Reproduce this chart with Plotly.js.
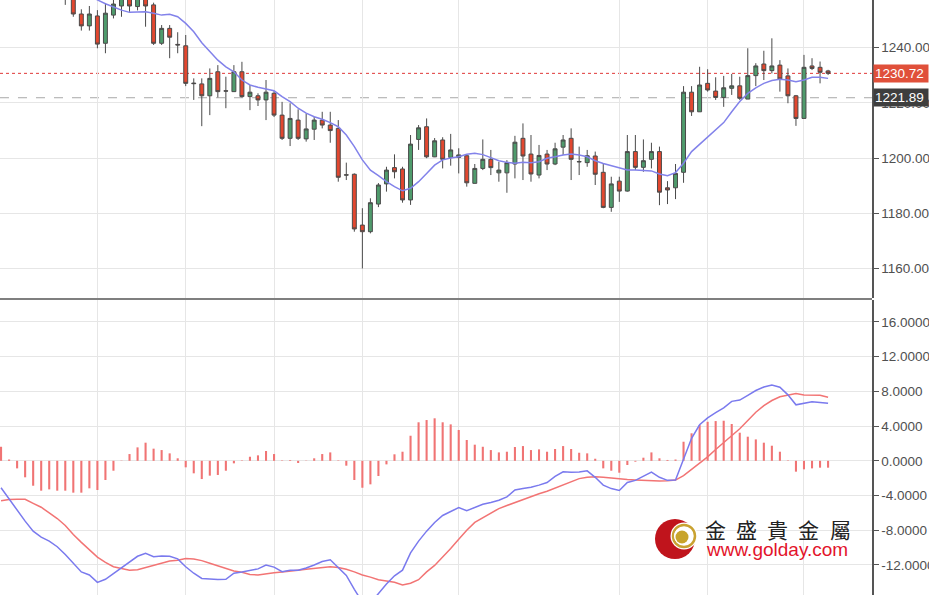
<!DOCTYPE html>
<html><head><meta charset="utf-8">
<script src="https://cdn.plot.ly/plotly-3.0.1.min.js"></script>
<style>html,body{margin:0;padding:0;background:#fff}#chart{width:929px;height:595px}</style>
</head><body><div id="chart"></div>
<script>
// ---- candle data (index -1 .. 94) ----
const candleStart = -1;
const open  = [1262,1262,1252.2,1247.9,1251.5,1241.6,1251.8,1255.1,1259,1254.9,1259,1255.5,1241.6,1247.0,1241.2,1240.7,1227.2,1226.9,1222.6,1231.3,1224.4,1224.1,1231.3,1222.3,1222.6,1221.1,1223.5,1215.6,1207.2,1213.8,1207.0,1210.5,1213.8,1212.0,1210.8,1194.0,1194.2,1175.8,1173.4,1183.4,1190.7,1196.6,1196.1,1184.9,1206.8,1211.4,1200.5,1206.6,1200.3,1200.3,1200.9,1190.9,1196.3,1199.6,1194.7,1194.7,1197.9,1207.2,1201.5,1193.9,1201.5,1197.9,1204.0,1207.2,1198.8,1198.4,1200.8,1194.9,1182.2,1191.7,1188.1,1202.4,1196.7,1199.6,1202.4,1189.3,1189.3,1194.9,1223.9,1216.8,1227.1,1224.3,1222.0,1225.3,1226.2,1221.4,1229.9,1234.1,1231.7,1233.7,1229.8,1222.6,1214.4,1233.4,1232.9,1231.6];
const close = [1260,1252.2,1247.9,1252.2,1241.3,1252.5,1255.8,1258.5,1255.1,1258.5,1255.1,1241.6,1247.0,1243.8,1241.0,1227.1,1227.0,1222.6,1228.9,1224.1,1224.3,1231.3,1222.3,1223.9,1221.1,1223.9,1215.6,1207.2,1214.4,1207.2,1210.6,1213.8,1212.0,1210.0,1193.1,1193.9,1174.4,1173.4,1183.9,1190.3,1195.7,1195.1,1184.9,1205.1,1211.0,1200.5,1206.3,1199.6,1203.0,1201.2,1191.1,1196.3,1199.6,1196.6,1195.7,1198.4,1205.8,1200.8,1194.3,1201.0,1197.9,1203.4,1206.6,1199.6,1198.7,1200.9,1194.2,1182.2,1190.7,1188.1,1202.4,1196.7,1199.1,1202.4,1187.7,1188.5,1194.5,1223.9,1216.8,1226.5,1224.7,1222.0,1225.5,1226.2,1221.7,1229.9,1233.4,1231.7,1233.4,1228.7,1222.6,1214.4,1232.9,1232.5,1231.1,1230.72];
const high  = [1263,1263,1253.9,1255.1,1253.6,1256.1,1258,1260,1260,1260,1260,1256.3,1248.2,1248.2,1245.6,1244.6,1228.9,1228.9,1232.5,1233.7,1229.5,1233.7,1234.9,1226.5,1223.5,1228.3,1224.3,1220.4,1219.9,1217.7,1216.2,1215.0,1216.8,1216.8,1213.8,1198.4,1194.5,1181.9,1185.5,1191.0,1196.9,1201.4,1196.9,1208.4,1212.0,1214.4,1207.3,1207.6,1208.8,1203.6,1201.0,1197.9,1206.8,1203.0,1198.7,1199.3,1208.1,1212.6,1208.4,1204.8,1203.0,1205.6,1208.4,1210.8,1204.2,1203.0,1202.4,1198.1,1193.3,1193.3,1208.4,1208.4,1206.8,1205.6,1204.2,1191.7,1197.9,1226.1,1226.1,1233.1,1232.2,1229.3,1229.8,1230.5,1229.5,1239.8,1234.4,1238.9,1243.4,1235.5,1232.5,1222.9,1237.4,1236.2,1235.0,1232.0];
const low   = [1255.5,1251.2,1246.2,1246.2,1239.8,1238.0,1250.6,1251.2,1253.0,1253.5,1247.6,1241.0,1241.0,1236.2,1238.0,1226.1,1221.1,1211.6,1215.6,1222.0,1218.1,1224.1,1222.0,1217.4,1218.9,1213.8,1214.9,1206.6,1204.4,1206.6,1206.0,1206.6,1210.8,1205.6,1191.5,1192.1,1173.4,1160.1,1172.8,1182.3,1187.9,1192.7,1183.9,1183.1,1203.0,1200.0,1200.4,1196.3,1197.3,1194.5,1189.7,1190.9,1195.7,1193.9,1191.5,1187.5,1192.7,1192.1,1191.5,1192.7,1195.7,1197.5,1201.2,1192.1,1193.9,1196.9,1190.3,1181.9,1180.6,1184.2,1187.9,1195.7,1195.1,1196.3,1183.0,1183.4,1185.2,1191.1,1215.3,1216.8,1224.1,1221.1,1218.6,1222.9,1221.1,1221.4,1226.1,1228.3,1230.7,1224.1,1219.9,1211.7,1214.4,1231.9,1227.1,1230.1];

// ---- moving average (index 2 .. 94) ----
const maStart = 2;
const ma = [1259.5,1257.3,1255.9,1254.7,1253.6,1252.8,1252.8,1253.0,1252.5,1251.8,1252.1,1251.2,1248.8,1245.8,1241.8,1238.6,1235.5,1233.1,1231.3,1228.3,1226.5,1225.7,1225.0,1224.4,1222.3,1220.5,1218.1,1216.3,1215.0,1214.1,1212.9,1211.4,1208.4,1204.2,1199.4,1195.7,1193.7,1191.5,1189.7,1188.2,1189.1,1191.5,1194.5,1197.5,1199.4,1200.1,1200.5,1201.4,1201.8,1201.3,1200.2,1199.1,1198.5,1198.2,1198.5,1198.4,1198.7,1200.0,1200.5,1201.2,1201.5,1201.2,1200.5,1199.1,1198.1,1197.3,1196.3,1195.7,1195.7,1195.5,1195.4,1194.3,1193.7,1194.8,1198.2,1202.4,1205.1,1207.6,1210.2,1212.9,1216.8,1220.5,1223.5,1225.5,1227.1,1228.1,1228.6,1228.3,1227.7,1228.3,1229.3,1229.3,1228.9];

// ---- MACD (index -9 .. 94) ----
const macdStart = -9;
const macdLine = [-3.1,-4.4,-5.6,-6.95,-8.1,-8.8,-9.25,-9.9,-10.8,-11.85,-12.8,-13.15,-14.0,-13.65,-13.0,-12.35,-11.65,-11.0,-10.65,-11.05,-10.97,-11.0,-11.3,-12.2,-12.95,-13.55,-13.62,-13.68,-13.65,-12.95,-12.8,-12.65,-12.45,-12.0,-12.25,-12.78,-12.6,-12.6,-12.35,-12.0,-11.6,-11.4,-12.35,-13.2,-14.8,-16.3,-16.4,-15.3,-14.2,-13.25,-12.6,-10.6,-9.25,-8.1,-7.1,-6.3,-5.8,-5.38,-5.75,-5.35,-5.0,-4.8,-4.55,-4.15,-3.35,-3.2,-3.05,-2.8,-2.5,-1.8,-1.26,-1.32,-1.28,-1.15,-1.9,-2.8,-3.2,-3.42,-2.5,-2.25,-1.75,-1.3,-1.9,-2.25,-2.2,0.3,2.6,4.15,4.95,5.55,6.1,6.85,7.0,7.55,8.1,8.5,8.73,8.48,7.6,6.45,6.6,6.8,6.72,6.62];
const signalLine = [-4.6,-4.45,-4.44,-4.44,-4.9,-5.35,-6.0,-6.65,-7.45,-8.5,-9.4,-10.3,-11.1,-11.7,-12.2,-12.4,-12.6,-12.55,-12.3,-12.1,-11.8,-11.55,-11.45,-11.25,-11.3,-11.5,-11.8,-12.1,-12.4,-12.7,-12.85,-13.1,-13.15,-13.0,-12.9,-12.8,-12.66,-12.6,-12.5,-12.4,-12.3,-12.2,-12.3,-12.5,-12.8,-13.15,-13.4,-13.7,-13.85,-14.0,-14.3,-14.1,-13.7,-12.8,-12.05,-11.1,-10.1,-9.05,-8.0,-7.1,-6.55,-6.0,-5.5,-5.15,-4.8,-4.47,-4.15,-3.8,-3.5,-3.15,-2.75,-2.4,-2.05,-1.9,-1.83,-1.9,-2.0,-2.1,-2.15,-2.2,-2.25,-2.28,-2.33,-2.3,-2.22,-1.7,-1.0,-0.3,0.45,1.3,2.1,2.9,3.7,4.65,5.6,6.35,6.95,7.38,7.6,7.75,7.58,7.58,7.55,7.32];
const histogram = [1.62,0.15,-0.87,-1.9,-2.87,-3.44,-3.29,-3.44,-3.44,-3.67,-3.67,-3.17,-3.36,-2.21,-1.14,0.03,0.78,1.55,2.09,1.4,1.24,0.86,0.29,-0.75,-1.44,-2.1,-1.71,-1.63,-1.14,-0.29,0.05,0.47,0.63,1.13,0.78,0.05,0.08,-0.25,0.03,0.29,0.78,0.97,0.05,-0.56,-2.21,-3.1,-2.71,-1.75,-0.41,0.75,1.05,2.89,4.44,4.7,4.9,4.44,4.2,3.55,2.4,1.86,1.62,1.24,0.97,1.05,1.59,1.7,1.24,1.32,1.05,1.36,1.7,1.36,0.93,0.86,0.24,-0.87,-1.14,-1.37,-0.48,-0.1,0.36,0.97,0.29,0.1,0.15,2.2,3.17,4.12,4.5,4.58,4.62,4.24,3.24,2.78,2.47,2.09,1.74,1.05,0.05,-1.25,-0.98,-0.87,-0.79,-0.79];

// ---- axis ticks / labels ----
const priceTicks = [1160,1180,1200,1220,1240];
const macdTicks = [-12,-8,-4,0,4,8,12,16];
const gridIdx = [3,14,25,36,48,68,79,91];
const lastPrice = 1230.72;
const refPrice = 1221.89;
const brandName = "金盛貴金屬";
const brandUrl = "www.golday.com";

const idx = (start, n) => Array.from({length:n}, (_, k) => start + k);
const cx = idx(candleStart, open.length);
const mx = idx(maStart, ma.length);
const dx = idx(macdStart, macdLine.length);

const traces = [
  {type:'candlestick', x:cx, open:open, high:high, low:low, close:close, xaxis:'x', yaxis:'y',
   increasing:{fillcolor:'#4f9b6c', line:{color:'#4a4a4a', width:1}},
   decreasing:{fillcolor:'#e2472f', line:{color:'#4a4a4a', width:1}},
   whiskerwidth:0, hoverinfo:'skip'},
  {type:'scatter', mode:'lines', x:mx, y:ma, xaxis:'x', yaxis:'y',
   line:{color:'#8282ea', width:1.5}, hoverinfo:'skip'},
  {type:'bar', x:dx, y:histogram, xaxis:'x2', yaxis:'y2', width:0.26,
   marker:{color:'#f07474', line:{width:0}}, hoverinfo:'skip'},
  {type:'scatter', mode:'lines', x:dx, y:signalLine, xaxis:'x2', yaxis:'y2',
   line:{color:'#f27474', width:1.5}, hoverinfo:'skip'},
  {type:'scatter', mode:'lines', x:dx, y:macdLine, xaxis:'x2', yaxis:'y2',
   line:{color:'#7a7aee', width:1.5}, hoverinfo:'skip'}
];

const W = 872, H = 595;
const px = v => v / W, py = v => (H - v) / H;
const tickFont = {family:'Liberation Sans, Arial, sans-serif', size:13.5, color:'#505050'};
const xr = [-9.13, 99.47];

const annotations = [
  {x:1, xref:'paper', xanchor:'left', xshift:1, y:lastPrice, yref:'y', yanchor:'middle', text:lastPrice.toFixed(2),
   showarrow:false, bgcolor:'#e0503a', font:{family:tickFont.family, size:13.5, color:'#ffffff'},
   width:52, align:'left', borderpad:1},
  {x:1, xref:'paper', xanchor:'left', xshift:1, y:refPrice, yref:'y', yanchor:'middle', text:refPrice.toFixed(2),
   showarrow:false, bgcolor:'#3e3e3e', font:{family:tickFont.family, size:13.5, color:'#ffffff'},
   width:52, align:'left', borderpad:1},
  {x:px(777), xref:'paper', xanchor:'center', y:py(549), yref:'paper', yanchor:'middle', text:brandUrl, showarrow:false,
   font:{family:'Liberation Sans, Arial, sans-serif', size:19, color:'#e3132b'}}
];
Array.from(brandName).forEach((ch, k) => {
  annotations.push({x:px(715 + k*31.3), xref:'paper', xanchor:'center', y:py(529), yref:'paper', yanchor:'middle',
    text:ch, showarrow:false,
    font:{family:'Noto Sans CJK TC, Noto Sans CJK SC, sans-serif', size:21, color:'#222222'}});
});

const circ = (cxp, cyp, r, fill, line) => ({type:'circle', xref:'paper', yref:'paper',
  xsizemode:'pixel', ysizemode:'pixel', xanchor:px(cxp), yanchor:py(cyp),
  x0:-r, x1:r, y0:-r, y1:r, fillcolor:fill, line:line || {width:0}, layer:'above'});

const shapes = [
  {type:'line', xref:'paper', x0:0, x1:1, yref:'y', y0:lastPrice, y1:lastPrice,
   line:{color:'#e03838', width:1, dash:'dot'}, layer:'below'},
  {type:'line', xref:'paper', x0:0, x1:1, yref:'y', y0:refPrice, y1:refPrice,
   line:{color:'#a8a8a8', width:1, dash:'dash'}, layer:'below'},
  {type:'line', xref:'paper', x0:0, x1:1, yref:'paper', y0:py(299), y1:py(299),
   line:{color:'#555555', width:1.5}},
  circ(675, 539, 20, '#c0141c'),
  circ(684, 536, 13.5, '#ffffff'),
  circ(684, 536, 11, 'rgba(0,0,0,0)', {color:'#c9a231', width:2.5}),
  circ(683, 536, 9, '#ffffff'),
  circ(682, 537, 6.5, '#c8a42a')
];

const layout = {
  width:929, height:595, margin:{l:0, r:57, t:0, b:0},
  paper_bgcolor:'#ffffff', plot_bgcolor:'#ffffff', showlegend:false, hovermode:false,
  xaxis:{domain:[0,1], range:xr, anchor:'y', tickvals:gridIdx, showticklabels:false, ticks:'',
    showgrid:true, gridcolor:'#e6e6e6', gridwidth:1, zeroline:false, showline:false,
    rangeslider:{visible:false}, fixedrange:true},
  yaxis:{domain:[py(298), 1], range:[1149.40, 1257.27], side:'right', anchor:'x',
    tickvals:priceTicks, ticktext:priceTicks.map(v => v.toFixed(2)), tickfont:tickFont,
    ticks:'outside', ticklen:5, tickcolor:'#555555', showline:true, linecolor:'#555555', linewidth:1.5,
    showgrid:true, gridcolor:'#e6e6e6', zeroline:false},
  xaxis2:{domain:[0,1], range:xr, anchor:'y2', matches:'x', tickvals:gridIdx, showticklabels:false, ticks:'',
    showgrid:true, gridcolor:'#e6e6e6', gridwidth:1, zeroline:false, showline:false},
  yaxis2:{domain:[0, py(300)], range:[-15.46, 18.53], side:'right', anchor:'x2',
    tickvals:macdTicks, ticktext:macdTicks.map(v => v.toFixed(4)), tickfont:tickFont,
    ticks:'outside', ticklen:5, tickcolor:'#555555', showline:true, linecolor:'#555555', linewidth:1.5,
    showgrid:true, gridcolor:'#e6e6e6', zeroline:false},
  annotations:annotations, shapes:shapes
};

Plotly.newPlot('chart', traces, layout, {staticPlot:true, displayModeBar:false});
</script></body></html>
